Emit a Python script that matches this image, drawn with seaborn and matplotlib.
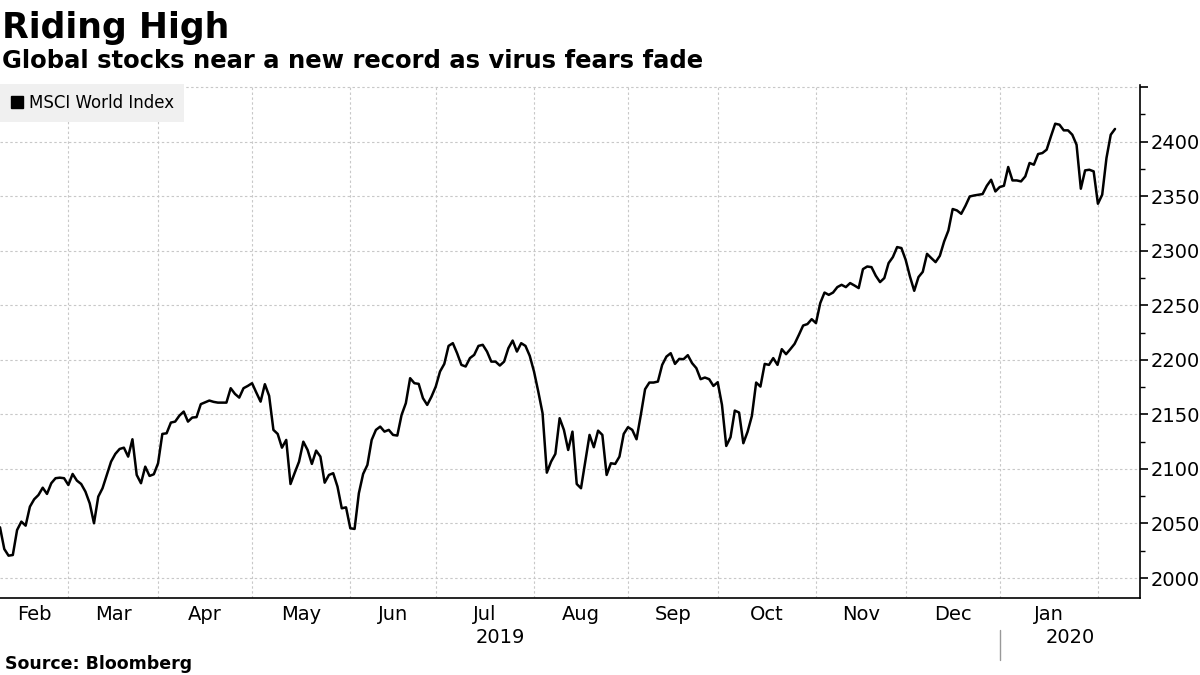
import numpy as np
import pandas as pd
import matplotlib
matplotlib.use("Agg")
import matplotlib.pyplot as plt
import matplotlib.transforms as mtransforms
from matplotlib.lines import Line2D
from matplotlib.ticker import MultipleLocator
import seaborn as sns

# ---------------- data ----------------
title = "Riding High"
subtitle = "Global stocks near a new record as virus fears fade"
source = "Source: Bloomberg"
series_name = "MSCI World Index"
start_date = "2019-02-07"
end_date = "2020-02-07"

msci_world = [
    2046.5, 2026.6, 2020.5, 2021.1, 2044.0, 2051.7, 2048.0, 2065.4, 2072.2, 2076.1,
    2082.8, 2077.1, 2086.9, 2091.5, 2092.0, 2091.5, 2085.3, 2095.4, 2089.3, 2086.2,
    2079.2, 2068.5, 2050.2, 2074.6, 2082.3, 2094.5, 2106.7, 2113.8, 2118.3, 2119.5,
    2111.3, 2127.2, 2094.5, 2086.9, 2102.1, 2093.6, 2095.1, 2105.2, 2132.1, 2132.7,
    2142.5, 2143.4, 2148.9, 2152.6, 2143.4, 2147.1, 2147.5, 2159.4, 2161.0, 2162.7,
    2161.5, 2160.8, 2160.8, 2160.8, 2174.0, 2168.8, 2165.4, 2174.0, 2176.1, 2178.6,
    2170.0, 2161.7, 2177.7, 2167.0, 2135.8, 2132.1, 2119.5, 2126.6, 2086.2, 2096.6,
    2106.7, 2125.0, 2117.4, 2104.6, 2116.8, 2111.3, 2087.4, 2094.5, 2096.1, 2083.8,
    2063.9, 2064.8, 2045.6, 2045.0, 2077.7, 2095.4, 2103.7, 2126.6, 2135.8, 2138.8,
    2134.2, 2135.8, 2131.2, 2130.6, 2149.5, 2160.3, 2183.2, 2178.6, 2178.0, 2164.9,
    2158.7, 2166.3, 2175.5, 2189.3, 2196.3, 2212.8, 2215.3, 2206.1, 2195.4, 2193.9,
    2201.6, 2204.6, 2212.8, 2213.8, 2207.6, 2198.4, 2198.4, 2194.8, 2198.4, 2210.7,
    2217.7, 2207.6, 2215.3, 2212.8, 2203.7, 2189.3, 2170.9, 2151.1, 2096.6, 2106.7,
    2113.8, 2146.5, 2135.8, 2117.4, 2134.2, 2086.2, 2082.3, 2106.7, 2131.2, 2119.9,
    2135.1, 2131.2, 2094.5, 2105.2, 2104.6, 2111.3, 2132.1, 2138.3, 2135.8, 2127.2,
    2149.5, 2173.1, 2179.2, 2179.2, 2180.1, 2195.4, 2203.0, 2206.1, 2196.3, 2200.9,
    2200.6, 2204.3, 2197.0, 2192.4, 2182.3, 2183.8, 2182.3, 2176.1, 2179.5, 2158.7,
    2121.1, 2129.1, 2153.5, 2151.7, 2123.6, 2134.2, 2148.6, 2179.2, 2175.5, 2196.3,
    2195.4, 2201.6, 2195.4, 2209.8, 2205.2, 2209.8, 2214.7, 2222.9, 2231.5, 2232.8,
    2237.3, 2233.7, 2252.0, 2261.7, 2259.6, 2261.7, 2266.7, 2268.8, 2266.7, 2270.4,
    2268.2, 2265.8, 2283.2, 2285.6, 2285.0, 2277.1, 2271.3, 2275.0, 2288.7, 2294.2,
    2303.4, 2302.5, 2291.7, 2276.4, 2263.3, 2275.9, 2280.7, 2297.2, 2293.3, 2289.6,
    2295.4, 2308.5, 2318.6, 2338.3, 2337.0, 2333.9, 2341.3, 2349.8, 2350.7, 2351.3,
    2352.0, 2359.6, 2365.1, 2354.4, 2358.4, 2359.6, 2376.8, 2364.5, 2364.5, 2363.6,
    2368.2, 2380.5, 2378.9, 2388.7, 2389.6, 2392.7, 2404.9, 2416.5, 2415.6, 2410.4,
    2410.4, 2406.4, 2397.2, 2356.9, 2373.7, 2374.3, 2372.8, 2343.1, 2351.4, 2385.0,
    2406.4, 2411.7,
]

y_ticks = [2000, 2050, 2100, 2150, 2200, 2250, 2300, 2350, 2400, 2450]
y_tick_labels = ["2000", "2050", "2100", "2150", "2200", "2250", "2300", "2350", "2400", ""]
y_limits = (1981.7, 2452)

# ---------------- frame ----------------
dates = pd.bdate_range(start_date, end_date)
df = pd.DataFrame({"date": dates, "value": msci_world})
df["day"] = np.arange(len(df))          # trading-day axis (as in the source chart)

sns.set_style("white")
plt.rcParams["font.family"] = ["DejaVu Sans"]
plt.rcParams["text.color"] = "black"
plt.rcParams["xtick.color"] = "black"
plt.rcParams["ytick.color"] = "black"
plt.rcParams["xtick.labelcolor"] = "black"
plt.rcParams["ytick.labelcolor"] = "black"

fig = plt.figure(figsize=(12, 6.75), dpi=100)
ax = fig.add_axes([0.0, 0.1141, 0.95, 0.7600])

sns.lineplot(data=df, x="day", y="value", ax=ax, color="black",
             linewidth=1.8, legend=False)

x_max = df["day"].iloc[-1] + 5.85
ax.set_xlim(0, x_max)
ax.set_ylim(*y_limits)

# spines
for s in ["left", "top"]:
    ax.spines[s].set_visible(False)
for s in ["right", "bottom"]:
    ax.spines[s].set_color("black")
    ax.spines[s].set_linewidth(1.2)

# y axis on the right
ax.yaxis.tick_right()
ax.set_yticks(y_ticks)
ax.set_yticklabels(y_tick_labels)
ax.yaxis.set_minor_locator(MultipleLocator(25))
ax.tick_params(axis="y", which="major", direction="out", length=6, width=1.2,
               labelsize=14, pad=2, colors="black")
ax.tick_params(axis="y", which="minor", direction="out", length=3.5, width=1.0,
               colors="black")
ax.set_ylabel("")
ax.set_xlabel("")

# month ticks (trading-day positions of month starts)
periods = df["date"].dt.to_period("M")
month_start = df.groupby(periods)["day"].min()
month_names = [p.strftime("%b") for p in month_start.index]
starts = list(month_start.values)
bounds = starts[1:]
ax.set_xticks(bounds)
ax.set_xticklabels([""] * len(bounds))
ax.tick_params(axis="x", which="major", direction="out", length=5, width=1.0,
               colors="black")

label_pos, label_txt = [], []
for i, s in enumerate(starts):
    e = starts[i + 1] if i + 1 < len(starts) else x_max
    if e - max(s, 0) >= 12:
        label_pos.append((max(s, 0) + e) / 2)
        label_txt.append(month_names[i])
ax.set_xticks(label_pos, minor=True)
ax.set_xticklabels(label_txt, minor=True)
ax.tick_params(axis="x", which="minor", length=0, labelsize=14, pad=5,
               labelcolor="black")

# grid
ax.grid(True, which="major", axis="both", linestyle=(0, (2.2, 2.2)),
        color="#c8c8c8", linewidth=0.8)
ax.set_axisbelow(True)

# year labels
trans = mtransforms.blended_transform_factory(ax.transData, ax.transAxes)
years = df["date"].dt.year
year_start = df.groupby(years)["day"].min()
ys = list(year_start.values)
for i, (yr, s) in enumerate(year_start.items()):
    e = ys[i + 1] if i + 1 < len(ys) else x_max
    ax.text((s + e) / 2, -0.077, str(yr), transform=trans, ha="center", va="center",
            fontsize=14, color="black")
    if i > 0:
        ax.plot([s, s], [-0.062, -0.121], transform=trans, color="#999999",
                linewidth=1.0, clip_on=False)

# legend
handle = Line2D([], [], marker="s", linestyle="none", color="black", markersize=8)
leg = ax.legend([handle], [series_name], loc="upper left", bbox_to_anchor=(0, 1.002),
                frameon=True, fancybox=False, borderaxespad=0, fontsize=12,
                handlelength=0.8, handletextpad=0.35, borderpad=0.6,
                labelspacing=0.2)
leg.get_frame().set_facecolor("#f0f0f0")
leg.get_frame().set_edgecolor("none")
leg.get_frame().set_alpha(1)
for t in leg.get_texts():
    t.set_color("black")

# titles and source
fig.text(0.002, 1 - 38 / 675, title, fontsize=25, fontweight="bold", va="baseline",
         color="black")
fig.text(0.002, 1 - 68 / 675, subtitle, fontsize=17.5, fontweight="bold", va="baseline",
         color="black")
fig.text(0.004, 1 - 669 / 675, source, fontsize=12.5, fontweight="bold", va="baseline",
         color="black")

fig.savefig("out.png", dpi=100)
